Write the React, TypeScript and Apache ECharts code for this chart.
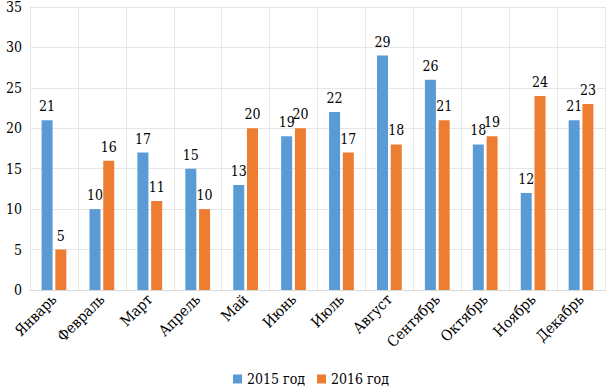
import React, { useEffect, useRef } from "react";
import * as echarts from "echarts";

const months = ["Январь", "Февраль", "Март", "Апрель", "Май", "Июнь", "Июль", "Август", "Сентябрь", "Октябрь", "Ноябрь", "Декабрь"];
const series2015 = [21, 10, 17, 15, 13, 19, 22, 29, 26, 18, 12, 21];
const series2016 = [5, 16, 11, 10, 20, 20, 17, 18, 21, 19, 24, 23];
const seriesNames = ["2015 год", "2016 год"];

const FONT = "DejaVu Serif Condensed, DejaVu Serif";

export default function App() {
  const ref = useRef<HTMLDivElement>(null);
  useEffect(() => {
    const chart = echarts.init(ref.current!, null, { renderer: "svg" });
    const labelStyle = { show: true, position: "top" as const, distance: 7, color: "#000", fontFamily: FONT, fontSize: 14 };
    chart.setOption({
      animation: false,
      grid: { left: 30, right: 2, top: 7, bottom: 99, containLabel: false },
      legend: {
        bottom: -2,
        left: 228,
        itemWidth: 9,
        itemHeight: 9,
        itemGap: 12,
        icon: "rect",
        textStyle: { fontFamily: FONT, fontSize: 14, color: "#000" },
        data: seriesNames,
      },
      xAxis: {
        type: "category",
        data: months,
        axisLine: { lineStyle: { color: "#d9d9d9" } },
        axisTick: { show: false },
        splitLine: { show: true, lineStyle: { color: "#e6e6e6" } },
        axisLabel: { rotate: 45, interval: 0, color: "#000", fontFamily: FONT, fontSize: 15, margin: 7 },
      },
      yAxis: {
        type: "value",
        min: 0,
        max: 35,
        interval: 5,
        axisLine: { show: false },
        axisTick: { show: false },
        splitLine: { lineStyle: { color: "#e6e6e6" } },
        axisLabel: { color: "#000", fontFamily: FONT, fontSize: 14, margin: 8 },
      },
      series: [
        { name: seriesNames[0], type: "bar", data: series2015, barWidth: 11, barGap: "25%", itemStyle: { color: "#5B9BD5" }, label: labelStyle },
        { name: seriesNames[1], type: "bar", data: series2016, barWidth: 11, barGap: "25%", itemStyle: { color: "#ED7D31" }, label: labelStyle },
      ],
    });
    return () => chart.dispose();
  }, []);
  return <div ref={ref} style={{ width: 607, height: 389, position: "absolute", left: 0, top: 0 }} />;
}
